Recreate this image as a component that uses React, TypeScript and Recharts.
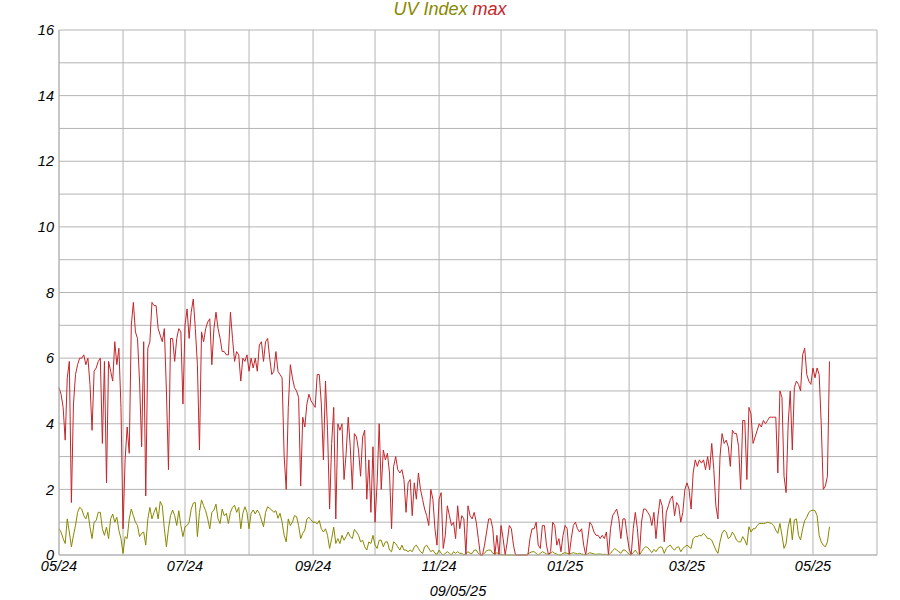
import { LineChart, Line, XAxis, YAxis, CartesianGrid } from "recharts"

// day 0 = 01/05/24, one value per day up to 09/05/25
const uvMax = [
  5.1, 4.9, 4.5, 3.5, 5.4, 5.9, 1.6, 4.6, 5.5, 5.8,
  6.0, 6.0, 6.1, 5.8, 6.0, 5.2, 3.8, 5.6, 5.7, 5.9,
  6.0, 3.4, 5.9, 2.2, 5.9, 5.6, 5.3, 6.5, 5.8, 6.3,
  4.5, 0.8, 2.9, 3.9, 3.1, 7.0, 7.7, 6.8, 6.6, 5.3,
  3.3, 6.5, 1.8, 6.3, 6.5, 7.7, 7.6, 7.6, 6.9, 6.7,
  6.5, 6.9, 5.0, 2.6, 6.6, 6.6, 5.9, 6.6, 6.9, 6.8,
  4.6, 7.0, 7.5, 6.6, 7.4, 7.8, 6.9, 5.8, 3.2, 6.8,
  6.5, 6.9, 7.1, 7.2, 5.8, 6.9, 7.4, 6.9, 6.6, 6.2,
  6.2, 6.1, 6.1, 7.4, 6.6, 5.9, 6.2, 6.1, 5.3, 6.0,
  5.9, 6.1, 5.6, 6.0, 5.7, 6.0, 5.6, 6.4, 6.5, 5.9,
  6.5, 6.6, 6.0, 5.5, 5.6, 6.2, 5.6, 5.5, 5.4, 3.0,
  2.0, 4.5, 5.8, 5.4, 5.1, 5.0, 4.8, 2.1, 4.2, 3.9,
  4.6, 4.9, 4.7, 4.6, 4.5, 5.5, 5.5, 4.6, 2.9, 5.3,
  3.8, 1.4, 3.4, 4.5, 1.1, 4.0, 3.8, 4.0, 2.3, 3.1,
  4.2, 3.3, 2.0, 3.7, 3.6, 3.2, 2.4, 3.6, 3.8, 1.7,
  2.9, 1.3, 3.3, 1.0, 2.2, 4.0, 2.0, 3.2, 2.9, 3.1,
  2.5, 0.8, 2.7, 3.0, 2.6, 2.5, 2.6, 2.3, 1.3, 2.2,
  2.3, 1.2, 2.2, 1.7, 2.5, 2.0, 1.7, 1.4, 1.2, 0.9,
  2.0, 1.7, 0.8, 0.3, 1.7, 1.9, 0.2, 0.6, 1.5, 1.2,
  0.9, 1.0, 0.5, 1.5, 0.8, 1.2, 1.1, 0.0, 1.5, 1.2,
  1.1, 1.3, 1.0, 0.5, 0.0, 0.0, 0.3, 0.7, 1.1, 1.1,
  0.8, 0.0, 0.6, 0.0, 0.9, 0.5, 0.0, 0.4, 0.9, 0.8,
  0.3, 0.0, 0.0, 0.0, 0.0, 0.0, 0.0, 0.0, 0.5, 0.8,
  0.8, 1.0, 0.3, 0.2, 0.9, 0.9, 0.3, 0.0, 0.1, 1.0,
  0.9, 0.3, 0.5, 0.1, 0.6, 0.9, 0.8, 0.0, 0.5, 0.9,
  1.0, 0.8, 0.7, 0.8, 0.3, 0.0, 0.5, 1.0, 0.9, 0.7,
  0.6, 0.6, 0.5, 0.6, 0.5, 0.7, 0.0, 0.8, 1.2, 1.3,
  1.4, 1.1, 0.5, 1.1, 1.1, 0.6, 0.2, 0.0, 0.8, 1.3,
  0.8, 0.0, 1.0, 1.4, 1.4, 1.3, 1.2, 0.9, 1.3, 0.5,
  1.2, 1.7, 1.5, 0.4, 1.3, 1.5, 1.7, 1.8, 1.2, 1.6,
  1.5, 1.0, 1.3, 2.0, 2.2, 2.0, 1.4, 2.5, 2.9, 2.7,
  2.9, 2.8, 2.9, 2.6, 3.0, 2.6, 3.4, 2.6, 1.5, 1.1,
  3.0, 3.7, 3.4, 3.5, 3.3, 2.7, 3.8, 3.7, 3.7, 3.3,
  2.0, 4.1, 4.1, 2.3, 4.5, 4.3, 3.4, 3.6, 3.8, 4.0,
  3.9, 4.1, 4.0, 4.1, 4.2, 4.2, 4.2, 4.2, 2.5, 5.0,
  4.8, 2.4, 1.9, 4.0, 5.0, 3.2, 5.1, 5.3, 5.2, 5.0,
  6.1, 6.3, 5.5, 5.3, 5.2, 5.7, 5.4, 5.7, 5.5, 4.0,
  2.0, 2.1, 2.4, 5.9,
]

const uvIndex = [
  0.8, 0.7, 0.5, 0.35, 1.1, 0.7, 0.25, 0.6, 0.9, 1.3,
  1.45, 1.4, 1.2, 1.1, 1.3, 0.85, 0.5, 1.0, 1.05, 1.3,
  1.3, 0.8, 0.6, 0.85, 0.5, 1.1, 1.25, 1.0, 1.15, 0.75,
  0.5, 0.05, 0.56, 0.5, 1.1, 1.4, 1.2, 1.0, 0.9, 0.56,
  0.66, 0.7, 0.3, 1.1, 1.45, 1.1, 1.3, 1.45, 1.1, 1.63,
  1.5, 0.8, 0.25, 0.8, 1.2, 1.37, 1.2, 0.9, 1.35, 0.9,
  0.56, 0.86, 0.9, 1.0, 1.4, 1.58, 1.6, 0.56, 1.3, 1.68,
  1.5, 1.35, 1.1, 0.8, 1.3, 1.37, 1.55, 1.1, 0.96, 1.4,
  1.2, 1.27, 0.96, 1.3, 1.45, 1.52, 1.3, 1.45, 0.8, 1.27,
  1.47, 1.3, 0.8, 1.27, 1.37, 1.25, 1.37, 1.27, 1.07, 0.86,
  1.3, 1.47, 1.42, 1.37, 1.3, 1.35, 1.12, 1.27, 1.0, 0.6,
  0.4, 1.1, 0.9, 1.0, 1.2, 1.17, 0.9, 0.5, 0.66, 0.76,
  1.1, 1.15, 1.07, 1.0, 1.0, 0.95, 1.05, 0.8, 0.7, 0.8,
  0.6, 0.2, 0.5, 0.85, 0.35, 0.5, 0.35, 0.6, 0.45, 0.56,
  0.7, 0.56, 0.5, 0.78, 0.7, 0.6, 0.4, 0.45, 0.25, 0.15,
  0.4, 0.35, 0.6, 0.3, 0.2, 0.45, 0.45, 0.25, 0.4, 0.4,
  0.15, 0.1, 0.4, 0.35, 0.25, 0.15, 0.3, 0.15, 0.15, 0.1,
  0.15, 0.1, 0.25, 0.3, 0.2, 0.1, 0.05, 0.25, 0.3, 0.2,
  0.1, 0.15, 0.05, 0.02, 0.15, 0.05, 0.0, 0.05, 0.1, 0.05,
  0.0, 0.1, 0.05, 0.1, 0.05, 0.05, 0.0, 0.05, 0.1, 0.05,
  0.05, 0.15, 0.15, 0.05, 0.0, 0.0, 0.05, 0.13, 0.15, 0.15,
  0.05, 0.03, 0.07, 0.03, 0.02, 0.0, 0.0, 0.0, 0.0, 0.0,
  0.0, 0.0, 0.0, 0.0, 0.0, 0.0, 0.0, 0.03, 0.07, 0.1,
  0.1, 0.05, 0.0, 0.05, 0.1, 0.07, 0.03, 0.02, 0.05, 0.1,
  0.05, 0.03, 0.0, 0.0, 0.05, 0.07, 0.05, 0.03, 0.05, 0.07,
  0.05, 0.03, 0.05, 0.03, 0.02, 0.0, 0.03, 0.07, 0.05, 0.03,
  0.02, 0.03, 0.03, 0.02, 0.02, 0.02, 0.0, 0.05, 0.13, 0.2,
  0.15, 0.1, 0.05, 0.15, 0.15, 0.08, 0.02, 0.0, 0.07, 0.15,
  0.05, 0.0, 0.1, 0.2, 0.25, 0.23, 0.15, 0.07, 0.17, 0.1,
  0.2, 0.25, 0.23, 0.05, 0.2, 0.27, 0.3, 0.2, 0.15, 0.23,
  0.25, 0.1, 0.2, 0.25, 0.3, 0.25, 0.2, 0.5, 0.56, 0.56,
  0.6, 0.58, 0.66, 0.6, 0.5, 0.5, 0.45, 0.3, 0.15, 0.05,
  0.4, 0.66, 0.76, 0.7, 0.5, 0.55, 0.7, 0.6, 0.45, 0.4,
  0.4, 0.56, 0.45, 0.3, 0.86, 0.7, 0.8, 0.8, 0.9, 0.96,
  0.96, 0.96, 0.97, 1.0, 0.98, 0.96, 0.9, 0.76, 0.66, 0.96,
  0.6, 0.2, 0.35, 0.86, 1.12, 0.46, 1.07, 1.1, 0.6, 0.46,
  0.8, 1.05, 1.15, 1.3, 1.35, 1.37, 1.35, 1.2, 0.6, 0.4,
  0.3, 0.25, 0.4, 0.86,
]

// month starts, counted in days from 01/05/24
const monthDays = [0, 31, 61, 92, 123, 153, 184, 214, 245, 276, 304, 335, 365, 396]
const monthLabels = ["05/24", "", "07/24", "", "09/24", "", "11/24", "", "01/25", "", "03/25", "", "05/25", ""]
const yTicks = [0, 1, 2, 3, 4, 5, 6, 7, 8, 9, 10, 11, 12, 13, 14, 15, 16]

const RED = "#c4262a"
const OLIVE = "#888800"
const GRID = "#b4b4b4"
const FONT = "'Liberation Sans', Arial, sans-serif"

const data = uvMax.map((v, i) => ({ day: i, max: v, index: uvIndex[i] }))

const tickStyle = { fontSize: 14.5, fontStyle: "italic", fill: "#000", fontFamily: FONT }

export default function App() {
  return (
    <div style={{ position: "absolute", left: 0, top: 0, width: 900, height: 600, background: "#fff", fontFamily: FONT }}>
      <div style={{ position: "absolute", top: -1, left: 0, width: 900, textAlign: "center", fontSize: 18, fontStyle: "italic", lineHeight: "21px" }}>
        <span style={{ color: OLIVE }}>UV Index</span> <span style={{ color: RED }}>max</span>
      </div>
      <LineChart width={900} height={600} data={data} margin={{ top: 30, right: 23, left: 0, bottom: 25 }}>
        <CartesianGrid stroke={GRID} strokeWidth={1} />
        <XAxis
          dataKey="day"
          type="number"
          domain={[0, 396]}
          ticks={monthDays}
          interval={0}
          tickFormatter={(v: number) => monthLabels[monthDays.indexOf(v)] ?? ""}
          tickLine={false}
          tickSize={6}
          tickMargin={0}
          axisLine={{ stroke: GRID }}
          height={20}
          tick={tickStyle}
        />
        <YAxis
          type="number"
          domain={[0, 16]}
          ticks={yTicks}
          interval={0}
          tickFormatter={(v: number) => (v % 2 === 0 ? String(v) : "")}
          tickLine={false}
          tickSize={3}
          tickMargin={2}
          axisLine={{ stroke: GRID }}
          width={59}
          tick={tickStyle}
        />
        <Line type="linear" dataKey="index" stroke={OLIVE} strokeWidth={1} dot={false} isAnimationActive={false} />
        <Line type="linear" dataKey="max" stroke={RED} strokeWidth={1} dot={false} isAnimationActive={false} />
      </LineChart>
      <div style={{ position: "absolute", top: 583, left: 408, width: 100, textAlign: "center", fontSize: 14.5, fontStyle: "italic" }}>
        09/05/25
      </div>
    </div>
  )
}
